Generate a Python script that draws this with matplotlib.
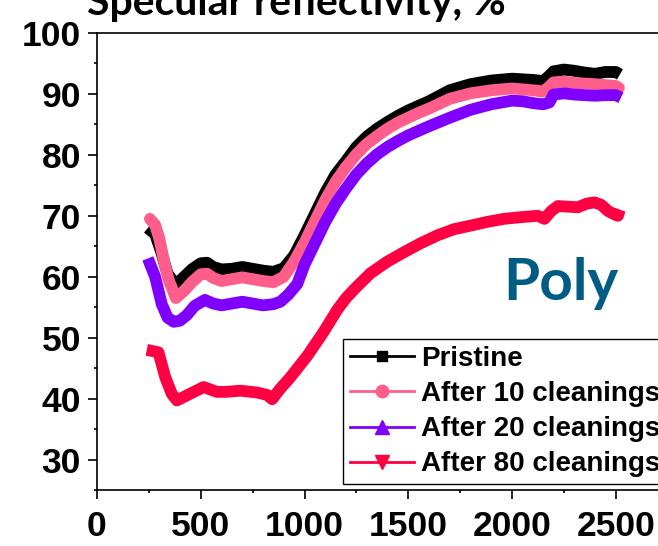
import matplotlib.pyplot as plt
from matplotlib.lines import Line2D
from matplotlib.ticker import MultipleLocator

# wavelength (nm) and specular reflectivity (%)
x_pristine = [245, 280, 310, 340, 380, 420, 460, 500, 530, 560, 600, 650, 700, 750, 800, 850, 900, 950,
              1000, 1050, 1100, 1150, 1200, 1250, 1300, 1350, 1400, 1450, 1500, 1600, 1700, 1800, 1900,
              2000, 2100, 2150, 2180, 2200, 2250, 2300, 2350, 2400, 2450, 2500, 2520]
y_pristine = [68.0, 67.0, 64.0, 60.5, 58.7, 60.0, 61.3, 62.2, 62.3, 61.6, 61.2, 61.3, 61.6, 61.3, 61.0, 60.8, 61.4, 63.5,
              66.8, 70.3, 73.8, 76.8, 79.0, 81.3, 83.0, 84.3, 85.4, 86.4, 87.3, 88.8, 90.6, 91.6, 92.2,
              92.5, 92.3, 92.1, 93.0, 93.7, 94.0, 93.8, 93.5, 93.3, 93.6, 93.6, 93.2]

x_10 = [255, 280, 300, 320, 345, 380, 420, 460, 500, 530, 560, 600, 650, 700, 750, 800, 850, 900, 950,
        1000, 1050, 1100, 1150, 1200, 1250, 1300, 1350, 1400, 1450, 1500, 1550, 1600, 1700, 1800, 1900,
        2000, 2100, 2150, 2180, 2200, 2250, 2300, 2400, 2500, 2515]
y_10 = [69.5, 68.5, 66.3, 63.0, 59.5, 56.5, 57.7, 59.2, 60.4, 60.5, 59.8, 59.3, 59.6, 59.9, 59.6, 59.3, 59.1, 60.0, 62.5,
        65.6, 69.1, 72.6, 75.6, 78.0, 80.1, 81.8, 83.1, 84.3, 85.3, 86.1, 86.9, 87.6, 89.2, 90.1, 90.6,
        90.9, 90.6, 90.4, 91.2, 91.9, 92.0, 91.8, 91.6, 91.3, 91.0]

x_20 = [245, 280, 312, 340, 370, 400, 433, 470, 520, 560, 600, 650, 700, 750, 800, 850, 884, 920, 965,
        1000, 1050, 1100, 1150, 1200, 1250, 1300, 1350, 1400, 1450, 1500, 1600, 1700, 1800, 1900,
        2000, 2050, 2100, 2150, 2180, 2200, 2250, 2300, 2350, 2400, 2450, 2500, 2525]
y_20 = [63.0, 60.0, 55.5, 53.3, 52.6, 52.8, 53.7, 55.2, 56.2, 55.6, 55.3, 55.6, 55.9, 55.6, 55.3, 55.5, 55.9, 57.0, 58.8,
        62.0, 65.5, 69.0, 72.0, 74.5, 76.8, 78.6, 80.1, 81.3, 82.3, 83.2, 84.7, 86.1, 87.4, 88.3,
        88.9, 88.8, 88.5, 88.3, 88.6, 89.9, 90.1, 89.9, 89.8, 89.7, 89.8, 89.8, 89.4]

x_80 = [240, 296, 329, 360, 385, 420, 449, 514, 578, 620, 691, 771, 820, 844, 880, 932,
        1013, 1093, 1158, 1200, 1250, 1319, 1400, 1478, 1560, 1641, 1720, 1802, 1880, 1961,
        2050, 2124, 2156, 2190, 2221, 2270, 2317, 2360, 2398, 2430, 2462, 2490, 2510, 2520]
y_80 = [48.0, 47.6, 43.5, 40.8, 39.7, 40.3, 40.8, 41.9, 41.1, 41.1, 41.3, 41.0, 40.6, 39.9, 41.5, 43.5,
        47.0, 51.0, 54.6, 56.5, 58.3, 60.6, 62.5, 64.0, 65.5, 66.8, 67.8, 68.4, 69.0, 69.5,
        69.8, 70.0, 69.5, 70.8, 71.6, 71.5, 71.4, 72.0, 72.2, 71.8, 70.8, 70.3, 70.0, 71.0]

labels = ["Pristine", "After 10 cleanings", "After 20 cleanings", "After 80 cleanings"]
colors = ["#000000", "#ff5e8c", "#8000ff", "#ff0043"]
markers = ["s", "o", "^", "v"]
msizes = [7.5, 9, 10, 10]

W, H = 658, 546
fig = plt.figure(figsize=(W / 100, H / 100), dpi=100)
# axes runs past the right edge of the picture, as in the cropped original
ax = fig.add_axes([97 / W, 1 - 490 / H, 580 / W, 457 / H])

series = [(x_pristine, y_pristine), (x_10, y_10), (x_20, y_20), (x_80, y_80)]
for i, (xs, ys) in enumerate(series):
    cap = "round" if i == 1 else "butt"
    ax.plot(xs, ys, color=colors[i], lw=8.5, solid_capstyle=cap, solid_joinstyle="round")

ax.set_xlim(0, 2795)
ax.set_ylim(25, 100)
ax.xaxis.set_major_locator(MultipleLocator(500))
ax.xaxis.set_minor_locator(MultipleLocator(250))
ax.yaxis.set_minor_locator(MultipleLocator(5))
ax.set_yticks([30, 40, 50, 60, 70, 80, 90, 100])

for sp in ax.spines.values():
    sp.set_linewidth(1.2)
ax.tick_params(which="major", direction="out", length=6.5, width=1.2, pad=5)
ax.tick_params(which="minor", direction="out", length=2.5, width=1.2)
ax.tick_params(axis="x", which="major", pad=8)
for lab in ax.get_xticklabels() + ax.get_yticklabels():
    lab.set_fontfamily("Liberation Sans")
    lab.set_fontweight("bold")
    lab.set_fontsize(25.5)

handles = [Line2D([], [], color=colors[i], lw=2, marker=markers[i], markersize=msizes[i])
           for i in range(4)]
# legend box is cut by the right edge in the original too
leg = ax.legend(handles, labels, loc="upper left", bbox_to_anchor=(343 / W, 1 - 339 / H),
                bbox_transform=fig.transFigure, borderaxespad=0, numpoints=1,
                prop={"family": "Liberation Sans", "weight": "bold", "size": 20},
                frameon=True, fancybox=False, edgecolor="black", framealpha=1,
                handlelength=2.3, handletextpad=0.25, labelspacing=0.33, borderpad=0.25)
leg.get_frame().set_linewidth(1.0)

fig.text(503 / W, 1 - 300 / H, "Poly", fontfamily="Lato", fontweight="bold", fontsize=42,
         color="#005b85", ha="left", va="baseline")
# title sits partly above the top edge, as in the cropped original
fig.text(296 / W, 1 - 15 / H, "Specular reflectivity, %", fontfamily="Lato", fontweight="bold",
         fontsize=29.5, color="black", ha="center", va="baseline")

fig.savefig("out.png", dpi=100)
